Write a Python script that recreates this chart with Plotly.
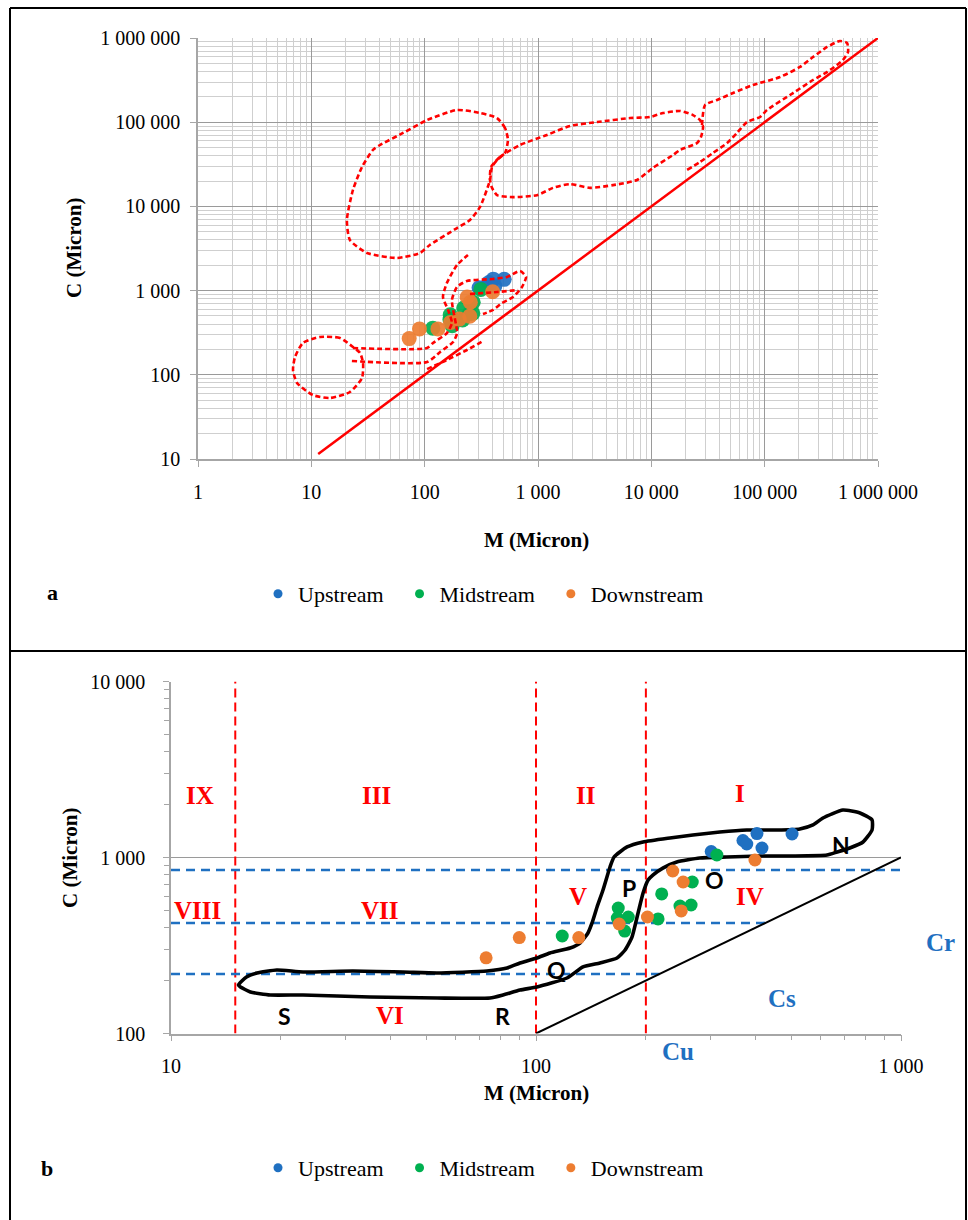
import numpy as np
import plotly.graph_objects as go

# ---------------- sample data (M, C in microns) ----------------
up_M = [302, 369, 378, 403, 416, 503]
up_C = [1082, 1249, 1193, 1368, 1132, 1360]
mid_M = [118, 168, 167, 175, 179, 216, 221, 268, 266, 248, 313]
mid_C = [358, 516, 453, 382, 459, 448, 621, 726, 537, 530, 1033]
down_M = [73, 90, 131, 169, 202, 237, 253, 250, 398]
down_C = [269, 351, 351, 419, 459, 838, 726, 497, 968]

# ---------------- panel a: red dashed Passega fields ----------------
lobe_M = [543, 512, 435, 308, 193, 105, 64.4, 40.4, 35, 28, 23.3, 20.6, 21.9, 31, 57, 91, 111, 193, 251, 308, 377, 393, 435, 512, 543]
lobe_C = [61500, 85300, 112000, 128500, 139600, 106000, 74500, 53600, 46800, 29400, 15700, 6890, 3990, 2800, 2440, 2800, 3480, 5530, 6890, 9840, 20600, 29400, 35600, 43100, 61500]

band_M = [385, 462, 694, 1200, 1915, 3320, 6490, 9730, 12700, 17900, 23300, 26900, 28600, 27400, 25300, 17900, 15500, 10300, 7480, 4590, 2880, 1915, 1356, 980, 602, 435, 393, 377, 385]
band_C = [29400, 38600, 53600, 70500, 90200, 100500, 112000, 115300, 128500, 135900, 121600, 106000, 87700, 66700, 56600, 46800, 40700, 28600, 20600, 17900, 16600, 18400, 16600, 13600, 12900, 13600, 16600, 20600, 29400]

upper_M = [28000, 29800, 38000, 52600, 78900, 136500, 205000, 267000, 355000, 462000, 533000, 544000, 491000, 435000, 355000, 267000, 178000, 105000, 91000, 69800, 57000, 46600, 35000, 26900, 20600]
upper_C = [92700, 160000, 183600, 222000, 276600, 344000, 453000, 594000, 782000, 921000, 873000, 682000, 548000, 478000, 394000, 317000, 222000, 139600, 115300, 100500, 74500, 56600, 43100, 33700, 27000]

loop_M = [23.3, 17.9, 11.9, 8.44, 7.18, 6.89, 7.48, 10.3, 14.6, 21.9, 28, 28.6, 26.9, 23.3]
loop_C = [214, 274, 281, 239, 163, 114, 80, 57.5, 53, 62.5, 91.6, 138, 182, 214]

br1_M = [23.3, 105, 118.5, 157, 174, 161, 145, 157, 193, 241]
br1_C = [208, 208, 239, 313, 412, 589, 840, 1231, 2013, 2650]
br2_M = [22.8, 105, 137, 178, 193, 174, 193, 236, 401, 533, 694, 784, 722, 602, 481, 401, 327]
br2_C = [146, 142, 187, 245, 313, 773, 1104, 1300, 1373, 1452, 1710, 1452, 1104, 840, 713, 589, 527]
br3_M = [251, 435, 666]
br3_C = [912, 962, 1016]
br4_M = [105, 157, 236, 327]
br4_C = [117, 150, 197, 252]

cm_line_a = [11.5, 1000000]

# ---------------- panel b: NOPQRS pattern ----------------
cm_M = [15.3, 16.1, 17.2, 19.5, 23.0, 31.5, 43.2, 53.6, 73.4, 83.3, 90.4, 100.6, 109.2, 124, 132, 138.8, 142.4, 147, 152.6, 159.5,
        163.6, 177.6, 196.5, 232.8, 269, 319, 378, 457, 528, 574, 611, 693, 772, 833, 833, 787, 724, 668, 627, 506, 411, 333, 281,
        243, 222.6, 209, 202.8, 196.5, 190.4, 183.2, 175.4, 166.7, 149.7, 134.5, 121.6, 100.6, 90.4, 81.2, 74.8, 53.6, 35.1, 23.0,
        18.7, 16.5, 15.5, 15.3]
cm_C = [188.6, 209.5, 220.7, 229.6, 223.6, 226.5, 223.6, 220.7, 226.5, 235.5, 251.6, 268.5, 286.7, 306, 326.6, 372.4, 424.6, 523.6,
        653.5, 883, 1006.5, 1148, 1225, 1291, 1343, 1396, 1433, 1433, 1452, 1530, 1677, 1862, 1790, 1634, 1433, 1225, 1132, 1074,
        1033, 1020, 1020, 1006.5, 993, 943, 871, 795, 745, 628, 484, 353, 298, 268.5, 251.6, 238.8, 206.7, 183.8, 176.6, 165.5,
        159.1, 159.1, 161.2, 165.5, 165.5, 172.2, 183.8, 188.6]
cm_line_b = [100, 1000]
m_bounds = [15, 100, 200]          # red dashed verticals
c_levels = [850, 425, 218]         # blue dashed horizontals
c_level_end = [1000, 425, 218]

roman_txt = ["IX", "III", "II", "I", "VIII", "VII", "V", "IV", "VI"]
roman_M = [12.0, 36.6, 137, 362, 11.8, 37.4, 130, 385, 39.8]
roman_C = [2265, 2265, 2265, 2323, 503, 503, 597, 597, 126]
seg_txt = ["S", "R", "Q", "P", "O", "N"]
seg_M = [20.4, 81.2, 114, 180, 308, 686]
seg_C = [126, 126, 230, 671, 745, 1178]
crit_txt = ["Cr", "Cs", "Cu"]
crit_M = [1280, 472, 245]
crit_C = [327, 159, 79.5]

series_names = ["Upstream", "Midstream", "Downstream"]

# ---------------- ticks ----------------
a_x_ticks = [1, 10, 100, 1000, 10000, 100000, 1000000]
a_x_lab = ["1", "10", "100", "1 000", "10 000", "100 000", "1 000 000"]
a_y_ticks = [10, 100, 1000, 10000, 100000, 1000000]
a_y_lab = ["10", "100", "1 000", "10 000", "100 000", "1 000 000"]
b_x_ticks = [10, 100, 1000]
b_x_lab = ["10", "100", "1 000"]
b_y_ticks = [100, 1000, 10000]
b_y_lab = ["100", "1 000", "10 000"]

BLUE = "#1f70c1"
GREEN = "#00b050"
ORANGE = "#ed7d31"
RED = "#ff0000"
GRID = "#a6a6a6"
SERIF = "Liberation Serif"

W, H = 968, 1220
def px(x):
    return x / W
def py(y):
    return 1 - y / H

XB = [px(171), px(901)]
YB = [py(1033.5), py(681.5)]
XB_RANGE = [1, 3]
YB_RANGE = [2, 4]

fig = go.Figure()

# ---------- panel a ----------
for M, C, col in [(up_M, up_C, BLUE), (mid_M, mid_C, GREEN), (down_M, down_C, ORANGE)]:
    fig.add_trace(go.Scatter(x=M, y=C, mode="markers", xaxis="x", yaxis="y", showlegend=False,
                             marker=dict(size=15, color=col, opacity=0.92)))
fig.add_trace(go.Scatter(x=cm_line_a, y=cm_line_a, mode="lines", xaxis="x", yaxis="y", showlegend=False,
                         line=dict(color=RED, width=2.5)))
for M, C in [(lobe_M, lobe_C), (band_M, band_C), (upper_M, upper_C), (loop_M, loop_C),
             (br1_M, br1_C), (br2_M, br2_C), (br3_M, br3_C), (br4_M, br4_C)]:
    fig.add_trace(go.Scatter(x=M, y=C, mode="lines", xaxis="x", yaxis="y", showlegend=False,
                             line=dict(color=RED, width=2.6, dash="5px,3px", shape="spline", smoothing=0.6)))

# ---------- panel b ----------
for m in m_bounds:
    fig.add_trace(go.Scatter(x=[m, m], y=[100, 10000], mode="lines", xaxis="x2", yaxis="y2", showlegend=False,
                             line=dict(color=RED, width=2, dash="9px,5px")))
for c, e in zip(c_levels, c_level_end):
    fig.add_trace(go.Scatter(x=[10, e], y=[c, c], mode="lines", xaxis="x2", yaxis="y2", showlegend=False,
                             line=dict(color="#1f70c1", width=2.5, dash="9px,6px")))
fig.add_trace(go.Scatter(x=cm_line_b, y=cm_line_b, mode="lines", xaxis="x2", yaxis="y2", showlegend=False,
                         line=dict(color="black", width=2)))
fig.add_trace(go.Scatter(x=cm_M, y=cm_C, mode="lines", xaxis="x2", yaxis="y2", showlegend=False,
                         line=dict(color="black", width=3.6, shape="spline", smoothing=0.5)))
for M, C, col in [(up_M, up_C, BLUE), (mid_M, mid_C, GREEN), (down_M, down_C, ORANGE)]:
    fig.add_trace(go.Scatter(x=M, y=C, mode="markers", xaxis="x2", yaxis="y2", showlegend=False,
                             marker=dict(size=13, color=col)))

# ---------- legends ----------
for leg in ["legend", "legend2"]:
    for name, col in zip(series_names, [BLUE, GREEN, ORANGE]):
        fig.add_trace(go.Scatter(x=[None], y=[None], mode="markers", name=name + "\u00a0\u00a0", legend=leg,
                                 xaxis="x", yaxis="y", marker=dict(size=9, color=col)))

tickfont = dict(family=SERIF, size=20, color="black")
def logaxis(rng, dom, anchor, tv, tt, grid, minor_vals, minor_grid, minor_ticks, standoff):
    d = dict(type="log", range=rng, domain=dom, anchor=anchor, tickmode="array", tickvals=tv, ticktext=tt,
             showgrid=grid, gridcolor="#9a9a9a", gridwidth=1.3, zeroline=False, automargin=False,
             showline=True, linecolor=GRID, linewidth=1.5, ticks="outside", ticklen=6, tickcolor=GRID,
             tickwidth=1.3, tickfont=tickfont, fixedrange=True, ticklabelstandoff=standoff)
    d["minor"] = dict(tickmode="array", tickvals=minor_vals, showgrid=minor_grid, gridcolor="#cfcfcf", gridwidth=1.2,
                      ticks="outside" if minor_ticks else "", ticklen=5, tickcolor=GRID)
    return d

def minors(lo, hi):
    out = []
    for e in range(lo, hi):
        for k in range(2, 10):
            out.append(k * 10 ** e)
    return out

legfont = dict(family=SERIF, size=22, color="black")
fig.update_layout(
    width=W, height=H, margin=dict(l=0, r=0, t=0, b=0, autoexpand=False),
    paper_bgcolor="white", plot_bgcolor="white",
    xaxis=logaxis([0, 6], [px(198), px(878)], "y", a_x_ticks, a_x_lab, True, minors(0, 6), True, False, 8),
    yaxis=logaxis([1, 6], [py(459), py(38)], "x", a_y_ticks, a_y_lab, True, minors(1, 6), True, False, 6),
    xaxis2=logaxis(XB_RANGE, XB, "y2", b_x_ticks, b_x_lab, False, minors(1, 3), False, True, 8),
    yaxis2=logaxis(YB_RANGE, YB, "x2", b_y_ticks, b_y_lab, True, minors(2, 4), False, True, 14),
    legend=dict(orientation="h", x=px(258), xanchor="left", y=py(594), yanchor="middle",
                font=legfont, bgcolor="rgba(0,0,0,0)"),
    legend2=dict(orientation="h", x=px(258), xanchor="left", y=py(1168), yanchor="middle",
                 font=legfont, bgcolor="rgba(0,0,0,0)"),
)

ann = []
def text(x, y, s, size, bold=True, color="black", fam=SERIF, angle=0, xref="paper", yref="paper"):
    ann.append(dict(x=x, y=y, xref=xref, yref=yref, text=(f"<b>{s}</b>" if bold else s), showarrow=False,
                    textangle=angle, font=dict(family=fam, size=size, color=color),
                    xanchor="center", yanchor="middle"))

def b_paper(m, c):
    # map panel-b data values to paper fractions through the log axis scale
    fx = (np.log10(m) - XB_RANGE[0]) / (XB_RANGE[1] - XB_RANGE[0])
    fy = (np.log10(c) - YB_RANGE[0]) / (YB_RANGE[1] - YB_RANGE[0])
    return XB[0] + fx * (XB[1] - XB[0]), YB[0] + fy * (YB[1] - YB[0])

text(px(536), py(540), "M (Micron)", 21)
text(px(74), py(248), "C (Micron)", 21, angle=-90)
text(px(536), py(1093), "M (Micron)", 21)
text(px(70), py(858), "C (Micron)", 21, angle=-90)
text(px(52), py(592), "a", 22)
text(px(47), py(1168), "b", 22)
for s, m, c in zip(roman_txt, roman_M, roman_C):
    x, y = b_paper(m, c)
    text(x, y, s, 25, color=RED)
for s, m, c in zip(seg_txt, seg_M, seg_C):
    x, y = b_paper(m, c)
    text(x, y, s, 23, color="black", fam="Lato")
for s, m, c in zip(crit_txt, crit_M, crit_C):
    x, y = b_paper(m, c)
    text(x, y, s, 25, color="#1f70c1")
fig.update_layout(annotations=ann)

# frames around the two panels
lw = dict(color="black", width=2)
shapes = [
    dict(type="line", xref="paper", yref="paper", x0=px(10), x1=px(10), y0=py(8), y1=0, line=lw),
    dict(type="line", xref="paper", yref="paper", x0=px(966), x1=px(966), y0=py(8), y1=0, line=lw),
    dict(type="line", xref="paper", yref="paper", x0=px(10), x1=px(966), y0=py(8), y1=py(8), line=lw),
    dict(type="line", xref="paper", yref="paper", x0=px(10), x1=px(966), y0=py(651), y1=py(651), line=lw),
]
fig.update_layout(shapes=shapes)

fig.write_html("out.html", config={"displayModeBar": False},
               post_script="document.body.style.margin='0';document.body.style.overflow='hidden';")
